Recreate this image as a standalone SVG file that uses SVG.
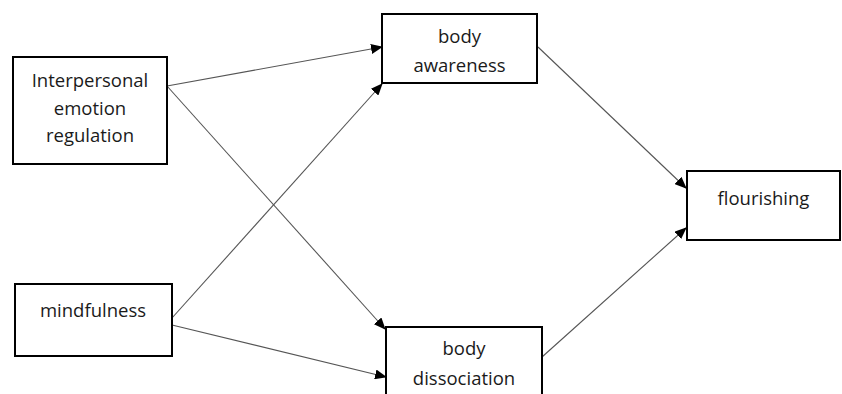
<svg xmlns="http://www.w3.org/2000/svg" width="842" height="394" viewBox="0 0 842 394">
<style>
.box{fill:#fff;stroke:#000;stroke-width:2}
.lbl{font-family:"Open Sans","Noto Sans",sans-serif;font-size:18.5px;fill:#1a1a1a;text-anchor:middle}
.c{stroke:#555;stroke-width:1.1;fill:none;marker-end:url(#ah)}
</style>
<defs>
<marker id="ah" markerWidth="12" markerHeight="10" refX="11" refY="5" orient="auto" markerUnits="userSpaceOnUse">
<path d="M0,0 L12,5 L0,10 Z" fill="#000"/>
</marker>
</defs>
<rect width="842" height="394" fill="#fff"/>
<g id="connectors">
<line class="c" x1="167" y1="86" x2="382" y2="47"/>
<line class="c" x1="167" y1="86" x2="385" y2="329"/>
<line class="c" x1="172" y1="318" x2="382" y2="84"/>
<line class="c" x1="172" y1="325" x2="386" y2="377"/>
<line class="c" x1="538" y1="47" x2="686" y2="188"/>
<line class="c" x1="542" y1="357" x2="686" y2="228"/>
</g>
<g id="interpersonal">
<rect class="box" x="13" y="57" width="154" height="107"/>
<text class="lbl" x="90" y="87">Interpersonal</text>
<text class="lbl" x="90" y="115">emotion</text>
<text class="lbl" x="90" y="142">regulation</text>
</g>
<g id="mindfulness">
<rect class="box" x="15" y="284" width="157" height="72"/>
<text class="lbl" x="93" y="317">mindfulness</text>
</g>
<g id="body-awareness">
<rect class="box" x="382" y="14" width="155" height="69"/>
<text class="lbl" x="459.5" y="43">body</text>
<text class="lbl" x="459.5" y="72">awareness</text>
</g>
<g id="body-dissociation">
<rect class="box" x="386" y="327" width="156" height="80"/>
<text class="lbl" x="464" y="355">body</text>
<text class="lbl" x="464" y="385">dissociation</text>
</g>
<g id="flourishing">
<rect class="box" x="687" y="171" width="153" height="69"/>
<text class="lbl" x="763.5" y="205">flourishing</text>
</g>
</svg>
